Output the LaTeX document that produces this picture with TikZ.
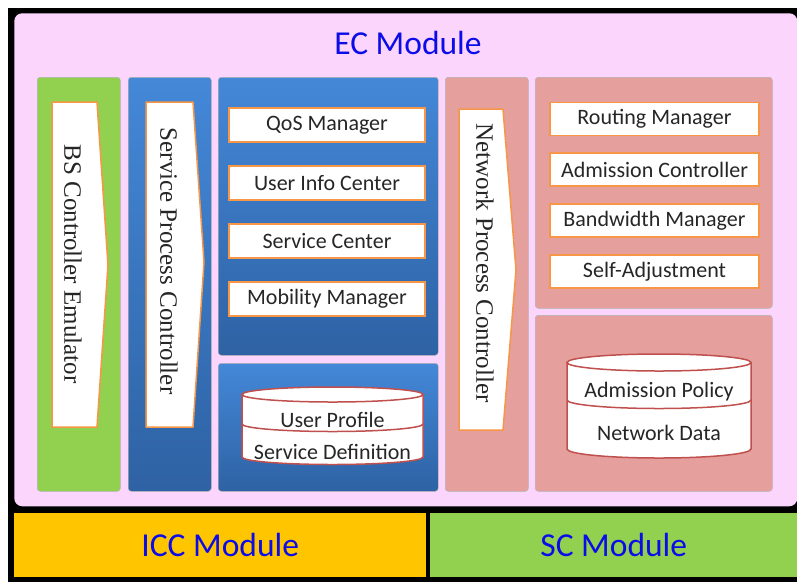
\documentclass[tikz,border=0pt]{standalone}
\usepackage{fontspec}
\setmainfont{Carlito}
\newfontfamily\romain{Liberation Serif}
\definecolor{rose}{RGB}{252,213,252}
\definecolor{vert}{RGB}{146,208,80}
\definecolor{bleuh}{RGB}{68,136,216}
\definecolor{bleub}{RGB}{46,98,164}
\definecolor{saumon}{RGB}{229,160,158}
\definecolor{bord}{RGB}{247,150,70}
\definecolor{rouge}{RGB}{192,80,77}
\definecolor{titre}{RGB}{12,12,232}
\definecolor{or}{RGB}{255,198,0}
\begin{document}
\begin{tikzpicture}[
      x=1pt, y=-1pt,
      panneau/.style={
        draw=black!30,
        line width=0.5pt,
        rounded corners=3pt,
        anchor=north west,
        inner sep=0pt
      },
      colonne/.style={
        panneau,
        minimum width=83pt,
        minimum height=414pt
      },
      bleu/.style={
        top color=bleuh,
        bottom color=bleub
      },
      boite/.style={
        draw=bord,
        line width=1.8pt,
        fill=white,
        inner sep=0pt,
        text=black!85,
        font=\fontsize{22}{26}\selectfont
      },
      boiteg/.style={
        boite,
        minimum width=196pt,
        minimum height=34pt
      },
      boited/.style={
        boite,
        minimum width=209pt,
        minimum height=33pt
      },
      fleche/.style={
        draw=bord,
        line width=1.5pt,
        fill=white,
        line join=round
      },
      vertical/.style={
        rotate=-90,
        inner sep=0pt,
        text=black!85,
        font=\romain\fontsize{25}{30}\selectfont
      },
      cylindre/.style={
        draw=rouge,
        line width=1.5pt,
        fill=white
      },
      texte/.style={
        inner sep=0pt,
        text=black!85,
        font=\fontsize{22}{26}\selectfont
      },
      titre/.style={
        text=titre,
        font=\fontsize{33.5}{40}\selectfont
      }
    ]
    \useasboundingbox (0,0) rectangle (797,582);
    \fill[white] (0,0) rectangle (797,582);
    \fill[black] (8,8) rectangle (797,582);

    % module EC
    \node[panneau, fill=rose, draw=none, rounded corners=8pt,
      minimum width=783pt, minimum height=493pt] (ec) at (14,13) {};
    \node[titre] (tec) at (408,43) {EC Module};

    % colonnes
    \node[colonne, fill=vert] (bs) at (37,77) {};
    \node[colonne, bleu] (spc) at (128,77) {};
    \node[colonne, fill=saumon] (npc) at (445,77) {};
    \node[panneau, bleu, minimum width=220pt, minimum height=278pt] (svc) at (218,77) {};
    \node[panneau, bleu, minimum width=220pt, minimum height=128pt] (bdu) at (218,363) {};
    \node[panneau, fill=saumon, minimum width=237pt, minimum height=231pt] (res) at (535,77) {};
    \node[panneau, fill=saumon, minimum width=237pt, minimum height=176pt] (bdr) at (535,315) {};

    % fleches
    \draw[fleche] (52,102) -- (97,102) -- (108,265) -- (97,427) -- (52,427) -- cycle;
    \draw[fleche] (146,102) -- (193,102) -- (204,262) -- (193,427) -- (146,427) -- cycle;
    \draw[fleche] (459,109) -- (503,109) -- (516,270) -- (503,430) -- (459,430) -- cycle;
    \node[vertical] (tbs) at (73,264) {BS Controller Emulator};
    \node[vertical] (tspc) at (169,261) {Service Process Controller};
    \node[vertical] (tnpc) at (485,263) {Network Process Controller};

    % services
    \begin{scope}[node distance=58pt]
      \node[boiteg] (qos) at (327,125) {QoS Manager};
      \node[boiteg, below of=qos] (uic) {User Info Center};
      \node[boiteg, below of=uic] (sce) {Service Center};
      \node[boiteg, below of=sce] (mob) {Mobility Manager};
    \end{scope}
    \begin{scope}[node distance=50.8pt]
      \node[boited] (rou) at (654.5,119) {Routing Manager};
      \node[boited, below of=rou] (adm) {Admission Controller};
      \node[boited, below of=adm] (bw) {Bandwidth Manager};
      \node[boited, below of=bw] (sa) {Self-Adjustment};
    \end{scope}

    % bases de donnees
    \draw[cylindre] (242,394.5) -- (242,457)
      arc[start angle=180, end angle=0, x radius=90.5, y radius=7.5]
      -- (423,394.5) -- cycle;
    \draw[cylindre] (332.5,394.5) ellipse [x radius=90.5, y radius=7.5];
    \draw[rouge, line width=1.5pt] (242,424)
      arc[start angle=180, end angle=0, x radius=90.5, y radius=7.5];
    \node[texte] (up) at (332.5,420) {User Profile};
    \node[texte] (sd) at (332.5,452) {Service Definition};

    \draw[cylindre] (567,362.5) -- (567,449)
      arc[start angle=180, end angle=0, x radius=92, y radius=9]
      -- (751,362.5) -- cycle;
    \draw[cylindre] (659,362.5) ellipse [x radius=92, y radius=8.5];
    \draw[rouge, line width=1.5pt] (567,400)
      arc[start angle=180, end angle=0, x radius=92, y radius=8.5];
    \node[texte] (ap) at (659,392) {Admission Policy};
    \node[texte] (nd) at (659,433) {Network Data};

    % modules du bas
    \node[panneau, fill=or, draw=none, rounded corners=0pt,
      minimum width=412pt, minimum height=64pt, titre] (icc) at (14,513) {ICC Module};
    \node[panneau, fill=vert, draw=none, rounded corners=0pt,
      minimum width=367pt, minimum height=64pt, titre] (sc) at (430,513) {SC Module};

  \end{tikzpicture}
\end{document}
